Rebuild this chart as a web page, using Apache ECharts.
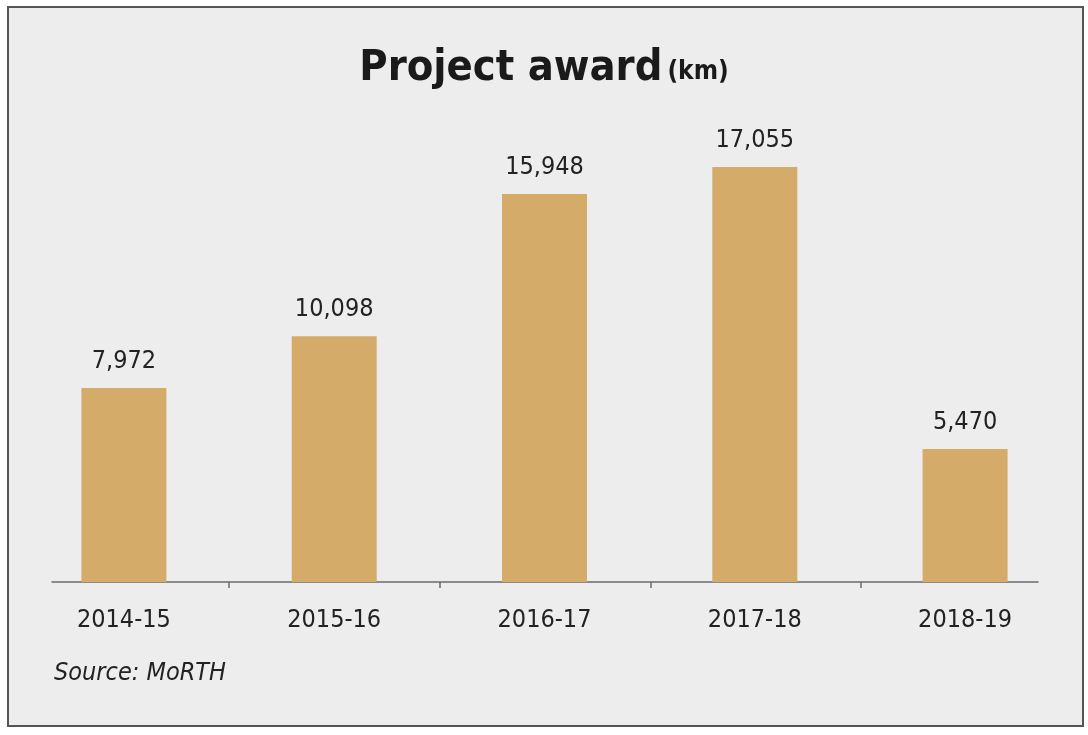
<!DOCTYPE html>
<html>
<head>
<meta charset="utf-8">
<script src="https://cdn.jsdelivr.net/npm/echarts@6/dist/echarts.min.js"></script>
<style>
  body { margin: 0; background: #fff; }
  #frame {
    position: absolute; left: 7px; top: 6px;
    width: 1073px; height: 717px;
    background: #eeeded; border: 2px solid #555;
  }
  #chart { position: absolute; left: 0; top: 0; width: 1088px; height: 735px; }
</style>
</head>
<body>
<div id="frame"></div>
<div id="chart"></div>
<script>
// data
var years = ['2014-15', '2015-16', '2016-17', '2017-18', '2018-19'];
var awardKm = [7972, 10098, 15948, 17055, 5470];
// tick marks sit on category boundaries (between bars)
var boundaryTicks = [1, 2, 3, 4];

var narrow = '"Liberation Sans Narrow", "Arial Narrow", "DejaVu Sans Condensed", sans-serif';

var myChart = echarts.init(document.getElementById('chart'));

var option = {
    backgroundColor: 'transparent',
    animation: false,
    title: [{
        text: '{a|Project award} {b|(km)}',
        left: 'center',
        top: 42,
        textStyle: {
            rich: {
                a: { fontFamily: narrow, fontWeight: 'bold', fontSize: 43, color: '#1a1a1a' },
                b: { fontFamily: narrow, fontWeight: 'bold', fontSize: 26, color: '#1a1a1a', padding: [8, 0, 0, 0] }
            }
        }
    }, {
        text: 'Source: MoRTH',
        left: 49,
        top: 656,
        textStyle: { fontFamily: narrow, fontStyle: 'italic', fontWeight: 'normal', fontSize: 25, color: '#222' }
    }],
    grid: [
        { left: 18.75, right: 17.75, top: 95.4, bottom: 153 },
        // only used for the shorter axis line + boundary ticks
        { left: 52, right: 50, top: 95.4, bottom: 153 }
    ],
    xAxis: [{
        type: 'category',
        gridIndex: 0,
        data: years,
        axisLine: { show: false },
        axisTick: { show: false },
        axisLabel: { fontFamily: narrow, fontSize: 25, color: '#222', margin: 26 }
    }, {
        type: 'value',
        gridIndex: 1,
        min: 0.158,
        max: 4.842,
        axisLine: { show: true, lineStyle: { color: '#6b6b6b', width: 1.5 } },
        axisTick: { show: true, customValues: boundaryTicks, length: 6, lineStyle: { color: '#6b6b6b', width: 1.5 } },
        axisLabel: { show: false },
        splitLine: { show: false }
    }],
    yAxis: [{
        type: 'value', gridIndex: 0, min: 0, max: 20000, show: false
    }, {
        type: 'value', gridIndex: 1, min: 0, max: 20000, show: false
    }],
    series: [{
        type: 'bar',
        xAxisIndex: 0,
        yAxisIndex: 0,
        data: awardKm,
        barWidth: 85,
        itemStyle: { color: '#d4ab69' },
        label: {
            show: true,
            position: 'top',
            distance: 14,
            fontFamily: narrow,
            fontSize: 25,
            color: '#222',
            formatter: function (p) { return p.value.toLocaleString('en-US'); }
        }
    }]
};

myChart.setOption(option);
</script>
</body>
</html>
